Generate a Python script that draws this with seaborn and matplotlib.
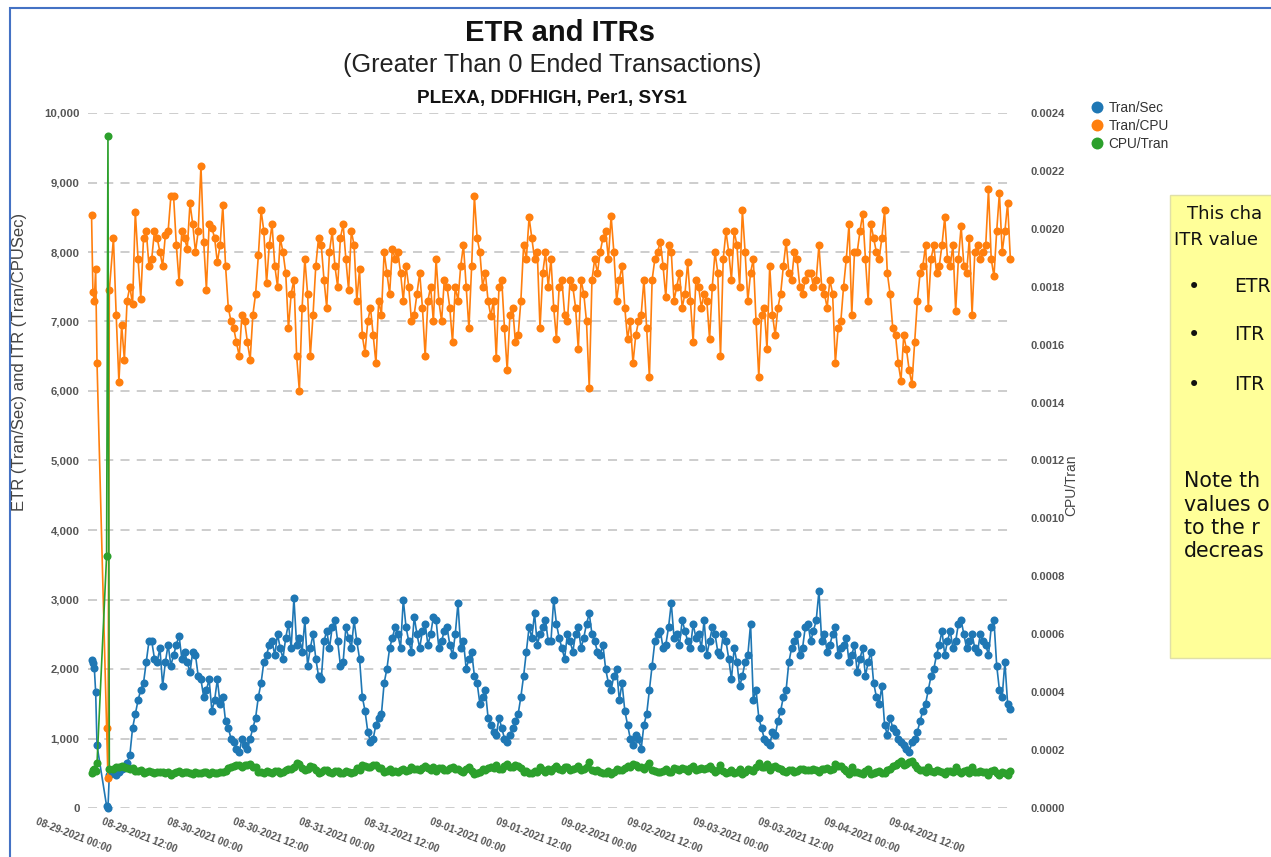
import matplotlib
matplotlib.use("Agg")
import matplotlib.pyplot as plt
import matplotlib.transforms as mtransforms
import matplotlib.ticker as mticker
from matplotlib.lines import Line2D
from matplotlib.patches import Rectangle
import numpy as np
import pandas as pd
import seaborn as sns

W, H = 1271, 857

# sample times, hours after 08-29-2021 00:00 (full hours + a few early samples)
hours = [0, 0.25, 0.5, 0.75, 1.0, 2.75, 3.0, 3.25] + list(range(4, 169))
# the half-hour samples in between
half_hours = [h + 0.5 for h in range(4, 168)]

tran_sec = [
    2130, 2080, 2020, 1670, 900, 30, 0, 480,
    500, 520, 580, 760, 1350, 1700, 2100, 2400, 2100, 1760, 2350, 2200,
    2480, 2250, 1950, 2200, 1850, 1700, 1400, 1850, 1600, 1150, 950, 800,
    900, 1000, 1300, 1800, 2200, 2400, 2500, 2150, 2650, 3020, 2450, 2700, 2300, 2150,
    1850, 2550, 2600, 2400, 2100, 2450, 2700, 2150, 1400, 950, 1200, 1350, 2000, 2450,
    2500, 3000, 2400, 2750, 2300, 2650, 2500, 2700, 2400, 2600, 2200, 2950, 2400, 2150,
    1900, 1500, 1700, 1200, 1050, 1150, 950, 1150, 1350, 1900, 2600, 2800, 2500, 2700,
    2400, 2650, 2300, 2500, 2250, 2600, 2450, 2800, 2400, 2200, 2000, 1700, 2000, 1800,
    1200, 900, 1000, 1200, 1700, 2400, 2550, 2350, 2950, 2500, 2700, 2400, 2650, 2500,
    2700, 2400, 2500, 2200, 2400, 1850, 2100, 1900, 2200, 1550, 1300, 1000, 900, 1050,
    1400, 1700, 2300, 2500, 2300, 2650, 2550, 3120, 2500, 2350, 2600, 2300, 2450, 2200,
    1950, 2300, 2100, 1800, 1500, 1200, 1300, 1100, 950, 850, 950, 1100, 1400, 1700,
    2000, 2350, 2200, 2550, 2400, 2700, 2300, 2500, 2250, 2400, 2200, 2700, 1700, 2100, 1420,
]
tran_sec_half = [
    480, 560, 650, 1150, 1550, 1800, 2400, 2150, 2300, 2100, 2050, 2350,
    2150, 2100, 2250, 1900, 1600, 1850, 1550, 1500, 1250, 1000, 850, 1000,
    850, 1150, 1600, 2100, 2350, 2200, 2300, 2450, 2300, 2350, 2250, 2050, 2500, 1900,
    2400, 2300, 2700, 2050, 2600, 2300, 2400, 1600, 1100, 1000, 1300, 1800, 2300, 2600,
    2300, 2600, 2250, 2500, 2550, 2350, 2750, 2300, 2550, 2350, 2500, 2300, 2000, 2250,
    1800, 1600, 1300, 1100, 1300, 1000, 1050, 1250, 1600, 2250, 2450, 2350, 2600, 2400,
    3000, 2450, 2150, 2400, 2500, 2300, 2650, 2500, 2250, 2350, 1800, 1900, 1550, 1400,
    1000, 1050, 850, 1350, 2050, 2500, 2300, 2600, 2450, 2350, 2550, 2300, 2450, 2300,
    2200, 2600, 2250, 2500, 2150, 2300, 1750, 2100, 2650, 1700, 1150, 950, 1100, 1250,
    1600, 2100, 2400, 2200, 2600, 2400, 2700, 2400, 2250, 2500, 2200, 2350, 2100, 2350,
    2150, 1900, 2250, 1600, 1750, 1050, 1150, 1000, 900, 800, 1000, 1250, 1500, 1900,
    2200, 2550, 2400, 2300, 2650, 2500, 2400, 2300, 2500, 2350, 2600, 2050, 1600, 1500,
]

tran_cpu = [
    8530, 7420, 7300, 7750, 6400, 1150, 430, 7450,
    8200, 6130, 6450, 7500, 8580, 7330, 8300, 7900, 8200, 7800, 8300, 8800,
    7570, 8200, 8700, 8000, 9240, 7460, 8350, 7850, 8670, 7200, 6900, 6500,
    7000, 6450, 7400, 8600, 7550, 8400, 7500, 8000, 6900, 7600, 6000, 7900, 6500, 7800,
    8100, 7200, 8300, 7500, 8400, 7450, 8100, 7750, 6550, 7200, 6400, 7100, 7700, 8050,
    8000, 7300, 7500, 7100, 7700, 6500, 7500, 7900, 7000, 7500, 6700, 7300, 8100, 6900,
    8800, 8000, 7700, 7080, 6470, 7600, 6300, 7200, 6800, 8100, 8500, 7900, 6900, 8000,
    7900, 6750, 7600, 7000, 7500, 6600, 7400, 6050, 7900, 8000, 8300, 8520, 7300, 7800,
    6750, 6400, 7000, 7600, 6200, 7900, 8150, 7350, 8000, 7500, 7200, 7850, 6700, 7500,
    7400, 6750, 8000, 6500, 8300, 7600, 8100, 8600, 7300, 7900, 6200, 7200, 7800, 6800,
    7400, 8150, 7600, 7900, 7400, 7700, 7500, 8100, 7400, 7600, 6400, 7000, 7900, 7100,
    8000, 8550, 7300, 8200, 7900, 8600, 7400, 6800, 6150, 6600, 6100, 7300, 7800, 7200,
    8100, 7800, 8500, 7800, 7150, 8370, 7700, 7100, 8100, 8000, 8900, 7650, 8850, 8300, 7900,
]
tran_cpu_half = [
    7100, 6950, 7300, 7250, 7900, 8200, 7800, 8300, 8000, 8250, 8800, 8100,
    8300, 8050, 8400, 8300, 8150, 8400, 8200, 8100, 7800, 7000, 6700, 7100,
    6700, 7100, 7950, 8300, 8100, 7800, 8200, 7700, 7400, 6500, 7200, 7400, 7100, 8200,
    7600, 8000, 7800, 8200, 7900, 8300, 7300, 6800, 7000, 6800, 7300, 8000, 7400, 7900,
    7700, 7800, 7000, 7400, 7200, 7300, 7000, 7300, 7600, 7200, 7500, 7800, 7500, 7800,
    8200, 7500, 7300, 7300, 7500, 6900, 7100, 6700, 7300, 7900, 8200, 8000, 7700, 7500,
    7200, 7500, 7100, 7600, 7200, 7600, 7000, 7600, 7700, 8200, 7900, 8000, 7600, 7200,
    7000, 6800, 7100, 6900, 7600, 8000, 7800, 8100, 7300, 7700, 7400, 7300, 7600, 7200,
    7300, 7500, 7700, 7900, 8000, 8300, 7500, 8000, 7700, 7000, 7100, 6600, 7100, 7200,
    7800, 7700, 8000, 7500, 7600, 7700, 7600, 7500, 7200, 7400, 6900, 7500, 8400, 8000,
    8300, 7900, 8400, 8000, 8200, 7700, 6900, 6400, 6800, 6300, 6700, 7700, 8100, 7900,
    7700, 8100, 7900, 8100, 7900, 7800, 8200, 8000, 7900, 8100, 7900, 8300, 8000, 8700,
]

# CPU/Tran in units of 1e-4
cpu_tran_e4 = [
    1.22, 1.30, 1.34, 1.28, 1.56, 8.70, 23.2, 1.34,
    1.36, 1.42, 1.40, 1.33, 1.27, 1.30, 1.25, 1.26, 1.24, 1.26, 1.23, 1.22,
    1.27, 1.24, 1.21, 1.24, 1.22, 1.25, 1.23, 1.21, 1.24, 1.38, 1.44, 1.50,
    1.47, 1.52, 1.40, 1.24, 1.29, 1.22, 1.28, 1.25, 1.36, 1.40, 1.52, 1.30, 1.44, 1.32,
    1.26, 1.30, 1.22, 1.27, 1.21, 1.26, 1.24, 1.30, 1.46, 1.40, 1.48, 1.38, 1.28, 1.25,
    1.26, 1.33, 1.30, 1.36, 1.30, 1.45, 1.32, 1.27, 1.38, 1.31, 1.42, 1.34, 1.24, 1.40,
    1.17, 1.25, 1.30, 1.40, 1.50, 1.34, 1.52, 1.40, 1.46, 1.26, 1.20, 1.28, 1.40, 1.26,
    1.27, 1.44, 1.32, 1.40, 1.33, 1.46, 1.36, 1.58, 1.28, 1.25, 1.22, 1.19, 1.34, 1.30,
    1.46, 1.52, 1.42, 1.34, 1.56, 1.27, 1.24, 1.36, 1.25, 1.33, 1.38, 1.28, 1.46, 1.34,
    1.36, 1.44, 1.26, 1.50, 1.22, 1.32, 1.24, 1.18, 1.36, 1.28, 1.56, 1.40, 1.30, 1.44,
    1.36, 1.24, 1.32, 1.27, 1.36, 1.30, 1.34, 1.24, 1.36, 1.32, 1.52, 1.44, 1.28, 1.40,
    1.26, 1.18, 1.36, 1.22, 1.27, 1.20, 1.36, 1.48, 1.62, 1.52, 1.64, 1.38, 1.30, 1.40,
    1.24, 1.28, 1.18, 1.28, 1.40, 1.20, 1.30, 1.40, 1.24, 1.25, 1.14, 1.30, 1.14, 1.20, 1.27,
]
cpu_tran_e4_half = [
    1.41, 1.44, 1.37, 1.38, 1.27, 1.22, 1.28, 1.20, 1.25, 1.21, 1.14, 1.23,
    1.20, 1.24, 1.19, 1.20, 1.23, 1.19, 1.22, 1.23, 1.28, 1.43, 1.49, 1.41,
    1.49, 1.41, 1.26, 1.20, 1.23, 1.28, 1.22, 1.30, 1.35, 1.54, 1.39, 1.35, 1.41, 1.22,
    1.32, 1.25, 1.28, 1.22, 1.27, 1.20, 1.37, 1.47, 1.43, 1.47, 1.37, 1.25, 1.35, 1.27,
    1.30, 1.28, 1.43, 1.35, 1.39, 1.37, 1.43, 1.37, 1.32, 1.39, 1.33, 1.28, 1.33, 1.28,
    1.22, 1.33, 1.37, 1.37, 1.33, 1.45, 1.41, 1.49, 1.37, 1.27, 1.22, 1.25, 1.30, 1.33,
    1.39, 1.33, 1.41, 1.32, 1.39, 1.32, 1.43, 1.32, 1.30, 1.22, 1.27, 1.25, 1.32, 1.39,
    1.43, 1.47, 1.41, 1.45, 1.32, 1.25, 1.28, 1.23, 1.37, 1.30, 1.35, 1.37, 1.32, 1.39,
    1.37, 1.33, 1.30, 1.27, 1.25, 1.20, 1.33, 1.25, 1.30, 1.43, 1.41, 1.52, 1.41, 1.39,
    1.28, 1.30, 1.25, 1.33, 1.32, 1.30, 1.32, 1.33, 1.39, 1.35, 1.45, 1.33, 1.19, 1.25,
    1.20, 1.27, 1.19, 1.25, 1.22, 1.30, 1.45, 1.56, 1.47, 1.59, 1.49, 1.30, 1.23, 1.27,
    1.30, 1.23, 1.27, 1.23, 1.27, 1.28, 1.22, 1.25, 1.27, 1.23, 1.27, 1.20, 1.25, 1.15,
]

series_names = ["Tran/Sec", "Tran/CPU", "CPU/Tran"]
series_colors = ["#1f77b4", "#ff7f0e", "#2ca02c"]

# visible part of the note beside the chart (cut by the slide edge)
note_intro = ["This cha", "ITR value"]
note_bullets = ["ETR", "ITR", "ITR"]
note_tail = ["Note th", "values o", "to the r", "decreas"]

start = pd.Timestamp("2021-08-29 00:00")
tick_times = pd.date_range("2021-08-29 00:00", "2021-09-04 12:00", freq="12h")
left_ticks = list(range(0, 10001, 1000))
right_ticks = np.linspace(0, 0.0024, 13)

df = pd.concat([
    pd.DataFrame({"hour": hours, "Tran/Sec": tran_sec, "Tran/CPU": tran_cpu,
                  "cpu_e4": cpu_tran_e4}),
    pd.DataFrame({"hour": half_hours, "Tran/Sec": tran_sec_half,
                  "Tran/CPU": tran_cpu_half, "cpu_e4": cpu_tran_e4_half}),
]).sort_values("hour").reset_index(drop=True)
df["time"] = start + pd.to_timedelta(df["hour"], unit="h")
df["CPU/Tran"] = df["cpu_e4"] * 1e-4

sns.set_style("white")
plt.rcParams["font.family"] = ["Liberation Sans", "DejaVu Sans"]


def px(x, y):
    return x / W, 1 - y / H


fig = plt.figure(figsize=(W / 100, H / 100), dpi=100)
ax = fig.add_axes([88 / W, (H - 808) / H, (1012 - 88) / W, (808 - 113) / H])
ax2 = ax.twinx()

LW = 1.2
MS = 5.8
for name, color in zip(series_names[:2], series_colors[:2]):
    sns.lineplot(data=df, x="time", y=name, ax=ax, color=color, linewidth=LW,
                 marker="o", markersize=MS, markeredgewidth=0)
sns.lineplot(data=df, x="time", y="CPU/Tran", ax=ax2, color=series_colors[2],
             linewidth=LW, marker="o", markersize=MS, markeredgewidth=0)
for line in ax.get_lines() + ax2.get_lines():
    line.set_clip_on(False)

ax.set_xlim(start - pd.Timedelta(minutes=39), start + pd.Timedelta(hours=168.3))
ax.set_ylim(0, 10000)
ax2.set_ylim(0, 0.0024)

for a in (ax, ax2):
    for s in a.spines.values():
        s.set_visible(False)
    a.set_xlabel("")
    a.set_ylabel("")

ax.set_axisbelow(True)
ax.yaxis.grid(True, linestyle=(0, (5, 4)), color="#c9c9c9", linewidth=1.3)
ax.xaxis.grid(False)

ax.set_yticks(left_ticks)
ax.yaxis.set_major_formatter(mticker.FuncFormatter(lambda v, p: f"{int(v):,}"))
ax.tick_params(axis="y", length=0, pad=6, labelsize=8.2, labelcolor="#555555")
ax2.set_yticks(right_ticks)
ax2.yaxis.set_major_formatter(mticker.FuncFormatter(lambda v, p: f"{v:.4f}"))
ax2.tick_params(axis="y", length=0, pad=13, labelsize=8.0, labelcolor="#555555")
for lab in ax.get_yticklabels() + ax2.get_yticklabels():
    lab.set_fontweight("bold")

ax.set_xticks(tick_times)
ax.set_xticklabels([t.strftime("%m-%d-%Y %H:%M") for t in tick_times])
ax.tick_params(axis="x", length=4, width=0.8, color="#999999", pad=2,
               labelsize=7.2, labelcolor="#555555")
shift = mtransforms.ScaledTranslation(-18 / 100, 0, fig.dpi_scale_trans)
for lab in ax.get_xticklabels():
    lab.set_rotation(-21)
    lab.set_ha("center")
    lab.set_va("top")
    lab.set_fontweight("bold")
    lab.set_transform(lab.get_transform() + shift)

# titles and axis labels
fig.text(*px(560, 33), "ETR and ITRs", ha="center", va="center",
         fontsize=21, fontweight="bold", color="#111111")
fig.text(*px(552, 65), "(Greater Than 0 Ended Transactions)", ha="center",
         va="center", fontsize=18.2, color="#222222")
fig.text(*px(552, 99), "PLEXA, DDFHIGH, Per1, SYS1", ha="center", va="center",
         fontsize=13.6, fontweight="bold", color="#111111")
fig.text(*px(20, 362), "ETR (Tran/Sec) and ITR (Tran/CPUSec)", rotation=90,
         ha="center", va="center", fontsize=12, color="#444444")
fig.text(*px(1071, 485), "CPU/Tran", rotation=90, ha="center", va="center",
         fontsize=10, color="#444444")

handles = [Line2D([], [], marker="o", linestyle="none", markersize=8.6,
                  markeredgewidth=0, color=c) for c in series_colors]
fig.legend(handles, series_names, loc="upper left", bbox_to_anchor=px(1090, 101),
           frameon=False, fontsize=9.8, handletextpad=0.35, labelspacing=0.28,
           handlelength=1.0, borderpad=0, borderaxespad=0, labelcolor="#333333")

# blue frame of the slide
fig.patches.append(Rectangle(px(10, 900), 2, (900 - 8) / H, transform=fig.transFigure,
                             fill=False, edgecolor="#4472c4", linewidth=1.5))

# yellow note box (cut at the right edge)
fig.patches.append(Rectangle(px(1170, 658), 0.2, (658 - 195) / H,
                             transform=fig.transFigure, facecolor="#ffff99",
                             edgecolor="#e0e0a8", linewidth=1))
note_font = ["DejaVu Sans"]
for (xx, yy), line in zip([(1187, 214), (1174, 240)], note_intro):
    fig.text(*px(xx, yy), line, va="center", fontsize=13,
             family=note_font, color="#111111")
for yy, word in zip([287, 335, 385], note_bullets):
    fig.text(*px(1188, yy), "\u2022", va="center", fontsize=15,
             family=note_font, color="#111111")
    fig.text(*px(1234, yy), word, va="center", fontsize=13.5,
             family=note_font, color="#111111")
for yy, line in zip([481, 505, 528, 551], note_tail):
    fig.text(*px(1184, yy), line, va="center", fontsize=14.8,
             family=note_font, color="#111111")

fig.savefig("out.png", dpi=100)
